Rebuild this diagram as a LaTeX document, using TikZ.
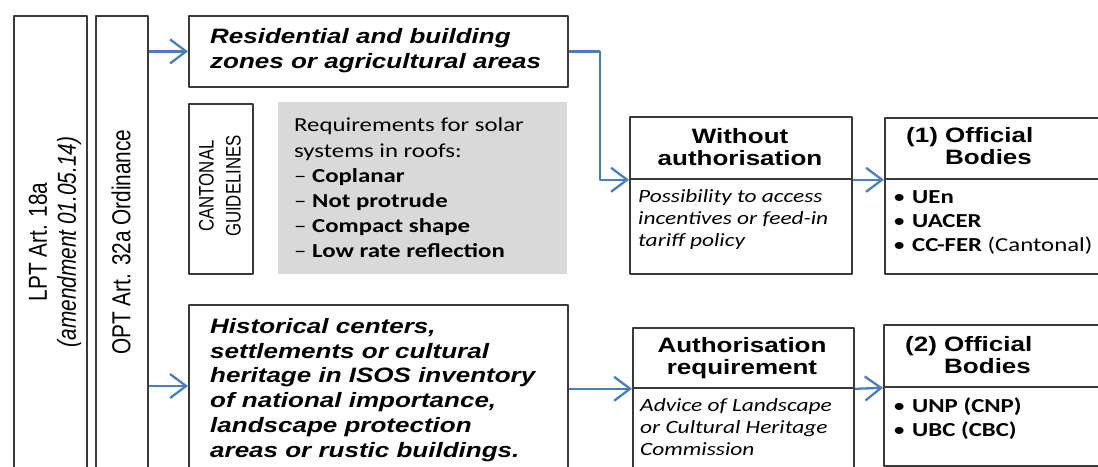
\documentclass[tikz,border=0pt]{standalone}
\usepackage{fontspec}
\setmainfont{Liberation Sans}
\newfontfamily\calibri{Carlito}
\usetikzlibrary{arrows.meta}
\definecolor{arrowblue}{HTML}{4A7EBB}
\definecolor{reqgrey}{HTML}{D9D9D9}
\definecolor{linegrey}{HTML}{3A3A3A}
\newcommand{\bodyitem}[1]{\makebox[19pt][l]{\textbullet}#1}
\begin{document}
\begin{tikzpicture}[x=1pt,y=-1pt,line join=round,
  >={Straight Barb[length=16pt,width=24pt]},
  box/.style={draw=linegrey,line width=1.8pt,inner sep=0pt,anchor=north west},
  arr/.style={->,draw=arrowblue,line width=2.3pt},
  sq/.style={yscale=0.8,inner sep=0pt},
  vt/.style={rotate=90,xscale=0.8,inner sep=0pt,align=center}]
 	\useasboundingbox (0,0) rectangle (1098,466);
 	\clip (0,0) rectangle (1098,466);
 	% law columns
 	\node[box,minimum width=73pt,minimum height=470pt] (lpt) at (13,15) {};
 	\node[box,minimum width=52pt,minimum height=470pt] (opt) at (95,15) {};
 	\node[vt,font=\fontsize{26}{29}\selectfont] (lpttxt) at (55,242) {LPT Art. 18a\\\textit{(amendment 01.05.14)}};
 	\node[vt,font=\fontsize{26}{29}\selectfont] (opttxt) at (121,242) {OPT Art. 32a Ordinance};
 	% zones
 	\node[box,minimum width=379pt,minimum height=71pt] (res) at (188,15) {};
 	\node[box,minimum width=379pt,minimum height=180pt] (hist) at (188,304) {};
 	\node[sq,anchor=west,align=left,font=\fontsize{26}{31}\selectfont\bfseries\itshape] (restxt) at (210,51) {Residential and building\\zones or agricultural areas};
 	\node[sq,anchor=west,align=left,font=\fontsize{26}{31}\selectfont\bfseries\itshape] (histtxt) at (210,390) {Historical centers,\\settlements or cultural\\heritage in ISOS inventory\\of national importance,\\landscape protection\\areas or rustic buildings.};
 	% guidelines
 	\node[box,minimum width=64pt,minimum height=170pt] (cant) at (188,103) {};
 	\node[vt,font=\fontsize{21}{27}\selectfont] (canttxt) at (220,186) {CANTONAL\\GUIDELINES};
 	\node[fill=reqgrey,inner sep=0pt,anchor=north west,minimum width=289pt,minimum height=172pt] (req) at (278,102) {};
 	\node[sq,anchor=west,align=left,font=\calibri\fontsize{24.8}{31.5}\selectfont] (reqtxt) at (294,188) {Requirements for solar\\systems in roofs:\\– \textbf{Coplanar}\\– \textbf{Not protrude}\\– \textbf{Compact shape}\\– \textbf{Low rate reflection}};
 	% without authorisation
 	\node[box,minimum width=222pt,minimum height=62pt] (wohead) at (629,116) {};
 	\node[box,minimum width=222pt,minimum height=95pt] (wobody) at (629,178) {};
 	\node[sq,align=center,font=\fontsize{26}{27.5}\selectfont\bfseries] (wotxt) at (740,147) {Without\\authorisation};
 	\node[sq,anchor=north west,align=left,font=\calibri\itshape\fontsize{23.4}{28}\selectfont] (wonote) at (638,189) {Possibility to access\\incentives or feed-in\\tariff policy};
 	\node[box,minimum width=240pt,minimum height=61pt] (ofahead) at (884,117) {};
 	\node[box,minimum width=240pt,minimum height=95pt] (ofabody) at (884,178) {};
 	\node[sq,anchor=west,align=left,font=\fontsize{26}{27}\selectfont\bfseries] (ofatxt) at (906,148) {(1) Official\\\phantom{(1) }Bodies};
 	\node[sq,anchor=north west,align=left,font=\calibri\fontsize{24.8}{30}\selectfont] (ofalist) at (893,190) {\bodyitem{\textbf{UEn}}\\\bodyitem{\textbf{UACER}}\\\bodyitem{\textbf{CC-FER} (Cantonal)}};
 	% authorisation requirement
 	\node[box,minimum width=221pt,minimum height=60pt] (auhead) at (632,327) {};
 	\node[box,minimum width=221pt,minimum height=100pt] (aubody) at (632,387) {};
 	\node[sq,align=center,font=\fontsize{26}{27.5}\selectfont\bfseries] (autxt) at (742,358) {Authorisation\\requirement};
 	\node[sq,anchor=north west,align=left,font=\calibri\itshape\fontsize{23.4}{28}\selectfont] (aunote) at (640,398) {Advice of Landscape\\or Cultural Heritage\\Commission};
 	\node[box,minimum width=240pt,minimum height=62pt] (ofbhead) at (883,324) {};
 	\node[box,minimum width=240pt,minimum height=79pt] (ofbbody) at (883,386) {};
 	\node[sq,anchor=west,align=left,font=\fontsize{26}{27}\selectfont\bfseries] (ofbtxt) at (905,357) {(2) Official\\\phantom{(2) }Bodies};
 	\node[sq,anchor=north west,align=left,font=\calibri\fontsize{24.8}{29}\selectfont] (ofblist) at (893,398) {\bodyitem{\textbf{UNP (CNP)}}\\\bodyitem{\textbf{UBC (CBC)}}};
 	% connectors
 	\draw[arr] (opt.east |- res.west) -- (res.west);
 	\draw[arr] (opt.east |- 0,386) -- (hist.west |- 0,386);
 	\draw[arr] (res.east) -- ++(31,0) |- (wohead.south west);
 	\draw[arr] (wohead.south east) -- (ofahead.south west);
 	\draw[arr] (hist.east |- auhead.south west) -- (auhead.south west);
 	\draw[arr] (auhead.south east) -- (ofbhead.south west);
\end{tikzpicture}
\end{document}
